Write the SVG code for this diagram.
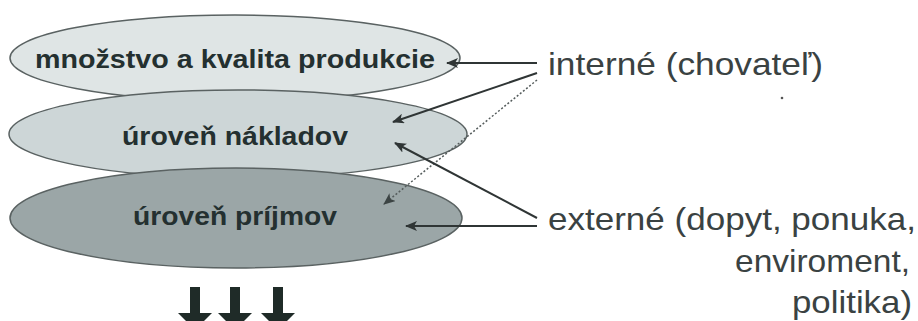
<svg xmlns="http://www.w3.org/2000/svg" width="918" height="321" viewBox="0 0 918 321">
  <style>
    .layer { stroke: #5a6262; stroke-width: 1.5; }
    .lbl { font-family: "Liberation Sans", Arial, sans-serif; font-weight: bold; font-size: 26px; fill: #243030; text-anchor: middle; }
    .side { font-family: "Liberation Sans", Arial, sans-serif; font-size: 32px; fill: #3a4242; }
    .link { stroke: #2f3535; stroke-width: 2; fill: none; }
    .dot { stroke: #555c5c; stroke-width: 1.5; fill: none; stroke-dasharray: 2 2; }
    .down { fill: #1f2b28; }
  </style>
  <defs>
    <marker id="head" viewBox="0 0 12 10" refX="11" refY="5" markerWidth="12" markerHeight="10" markerUnits="userSpaceOnUse" orient="auto">
      <path d="M0,0 L12,5 L0,10 L3,5 Z" fill="#2f3535"/>
    </marker>
    <marker id="headDot" viewBox="0 0 12 10" refX="11" refY="5" markerWidth="12" markerHeight="10" markerUnits="userSpaceOnUse" orient="auto">
      <path d="M0,0 L12,5 L0,10 L3,5 Z" fill="#3c4444"/>
    </marker>
  </defs>
  <rect width="918" height="321" fill="#ffffff"/>

  <g id="layer-produkcia">
    <ellipse class="layer" cx="235" cy="58" rx="225" ry="43" fill="#dfe5e5"/>
    <text class="lbl" x="235" y="68" textLength="400" lengthAdjust="spacingAndGlyphs">množstvo a kvalita produkcie</text>
  </g>
  <g id="layer-naklady">
    <ellipse class="layer" cx="238" cy="134" rx="229" ry="44" fill="#cdd6d7"/>
    <text class="lbl" x="235" y="145" textLength="226" lengthAdjust="spacingAndGlyphs">úroveň nákladov</text>
  </g>
  <g id="layer-prijmy">
    <ellipse class="layer" cx="236" cy="218" rx="226" ry="50" fill="#9ba6a7"/>
    <text class="lbl" x="235" y="225" textLength="204" lengthAdjust="spacingAndGlyphs">úroveň príjmov</text>
  </g>

  <g id="factor-interne">
    <text class="side" x="548" y="75" textLength="275" lengthAdjust="spacingAndGlyphs">interné (chovateľ)</text>
  </g>
  <g id="factor-externe">
    <text class="side" x="548" y="230" textLength="368" lengthAdjust="spacingAndGlyphs">externé (dopyt, ponuka,</text>
    <text class="side" x="735" y="272" textLength="175" lengthAdjust="spacingAndGlyphs">enviroment,</text>
    <text class="side" x="792" y="313" textLength="120" lengthAdjust="spacingAndGlyphs">politika)</text>
  </g>

  <g id="connectors">
    <line class="link" x1="537" y1="63" x2="447" y2="63" marker-end="url(#head)"/>
    <line class="link" x1="537" y1="73" x2="393" y2="122" marker-end="url(#head)"/>
    <line class="dot" x1="537" y1="80" x2="384" y2="204" marker-end="url(#headDot)"/>
    <line class="link" x1="537" y1="218" x2="395" y2="143" marker-end="url(#head)"/>
    <line class="link" x1="537" y1="226" x2="406" y2="226" marker-end="url(#head)"/>
  </g>

  <g id="result-arrows">
    <path class="down" d="M190,287 H200 V313 H212 L195,330 L178,313 H190 Z"/>
    <path class="down" d="M230,287 H240 V313 H252 L235,330 L218,313 H230 Z"/>
    <path class="down" d="M273,287 H283 V313 H295 L278,330 L261,313 H273 Z"/>
  </g>

  <circle cx="782" cy="98" r="1.3" fill="#555"/>
</svg>
